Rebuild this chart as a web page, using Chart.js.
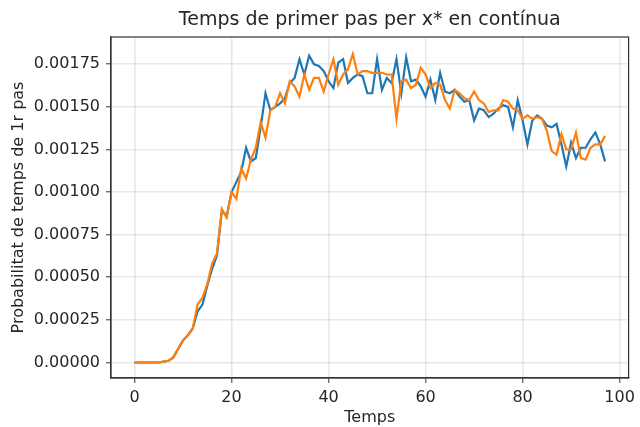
<!DOCTYPE html>
<html>
<head>
<meta charset="utf-8">
<script src="https://cdn.jsdelivr.net/npm/chart.js@4.4.1/dist/chart.umd.min.js"></script>
<style>
  html, body { margin: 0; padding: 0; background: #ffffff; }
  canvas { display: block; }
</style>
</head>
<body>
<canvas id="chart" width="640" height="427"></canvas>
<script>
// Time steps 0..97
const temps = [];
for (let t = 0; t <= 97; t++) temps.push(t);

// First-passage probability, series 1 (blue)
const serieBlava = [
  0, 0, 0, 0, 0, 0, 0.000005, 0.00001, 0.00003, 0.00008,
  0.00013, 0.00016, 0.0002, 0.0003, 0.00034, 0.00045, 0.00055, 0.00063, 0.00089, 0.00086,
  0.001, 0.00106, 0.00112, 0.00126, 0.00118, 0.0012, 0.00138, 0.00158, 0.00148, 0.0015,
  0.00152, 0.00155, 0.00164, 0.00167, 0.00178, 0.00169, 0.0018, 0.00175, 0.00174, 0.00171,
  0.00165, 0.00161, 0.00176, 0.00178, 0.00164, 0.00167, 0.00169, 0.00168, 0.00158, 0.00158,
  0.00178, 0.0016, 0.00167, 0.00164, 0.00178, 0.00158, 0.00179, 0.00165, 0.00166, 0.00162,
  0.00156, 0.00166, 0.00154, 0.0017, 0.00159, 0.00158, 0.0016, 0.00156, 0.00153, 0.00154,
  0.00142, 0.00149, 0.00148, 0.00144, 0.00146, 0.00149, 0.00151, 0.0015, 0.00138, 0.00154,
  0.00142, 0.00128, 0.00142, 0.00145, 0.00143, 0.00139, 0.00138, 0.0014, 0.00128, 0.00115,
  0.00129, 0.0012, 0.00126, 0.00126, 0.00131, 0.00135, 0.00128, 0.00118
];

// First-passage probability, series 2 (orange)
const serieTaronja = [
  0, 0, 0, 0, 0, 0, 0.000005, 0.00001, 0.00003, 0.00008,
  0.00013, 0.00016, 0.0002, 0.00034, 0.00038, 0.00046, 0.00058, 0.00064, 0.0009, 0.00085,
  0.001, 0.00096, 0.00114, 0.00108, 0.00119, 0.00126, 0.00141, 0.00132, 0.00148, 0.0015,
  0.00158, 0.00152, 0.00165, 0.00162, 0.00156, 0.00169, 0.0016, 0.00167, 0.00167, 0.00159,
  0.00169, 0.00178, 0.00163, 0.00169, 0.00172, 0.00181, 0.00169, 0.00171, 0.00171, 0.0017,
  0.0017, 0.0017, 0.00169, 0.00169, 0.00143, 0.00165, 0.00166, 0.00161, 0.00163, 0.00173,
  0.00169, 0.00161, 0.00164, 0.00163, 0.00154, 0.00149, 0.0016, 0.00158, 0.00155, 0.00154,
  0.00159, 0.00154, 0.00152, 0.00147, 0.00148, 0.00148, 0.00154, 0.00153, 0.00149, 0.00148,
  0.00143, 0.00145, 0.00143, 0.00144, 0.00143, 0.00136, 0.00124, 0.00122, 0.00134, 0.00125,
  0.00125, 0.00135, 0.0012, 0.00119, 0.00126, 0.00128, 0.00128, 0.00133
];

// Axis tick positions
const xTicks = [0, 20, 40, 60, 80, 100];
const yTicks = [0, 0.00025, 0.0005, 0.00075, 0.001, 0.00125, 0.0015, 0.00175];

const titol = 'Temps de primer pas per x* en contínua';
const titolX = 'Temps';
const titolY = 'Probabilitat de temps de 1r pas';

const FONT = "'DejaVu Sans', sans-serif";
const INK = '#262626';

// Axes frame on all four sides plus the chart title
const framePlugin = {
  id: 'frame',
  afterDraw(chart) {
    const { ctx, chartArea: a } = chart;
    ctx.save();
    ctx.strokeStyle = '#333333';
    ctx.lineWidth = 1.2;
    ctx.strokeRect(a.left, a.top, a.right - a.left, a.bottom - a.top);
    ctx.fillStyle = INK;
    ctx.font = "19px " + FONT;
    ctx.textAlign = 'center';
    ctx.textBaseline = 'middle';
    ctx.fillText(titol, (a.left + a.right) / 2, 20);
    ctx.restore();
  }
};

const toPoints = (ys) => ys.map((y, i) => ({ x: temps[i], y }));

new Chart(document.getElementById('chart'), {
  type: 'line',
  data: {
    datasets: [
      {
        data: toPoints(serieBlava),
        borderColor: '#1f77b4',
        borderWidth: 2.2,
        pointRadius: 0,
        tension: 0,
        order: 2
      },
      {
        data: toPoints(serieTaronja),
        borderColor: '#ff7f0e',
        borderWidth: 2.2,
        pointRadius: 0,
        tension: 0,
        order: 1
      }
    ]
  },
  options: {
    responsive: false,
    animation: false,
    devicePixelRatio: 1,
    layout: { padding: { top: 37, right: 6, left: 0, bottom: 0 } },
    plugins: {
      legend: { display: false },
      tooltip: { enabled: false },
      title: { display: false }
    },
    scales: {
      x: {
        type: 'linear',
        min: -4.85,
        max: 101.85,
        afterBuildTicks: (s) => { s.ticks = xTicks.map(v => ({ value: v })); },
        afterFit: (s) => { s.height = 49; },
        ticks: {
          color: INK,
          font: { family: FONT, size: 16 },
          padding: 5,
          maxRotation: 0,
          callback: (v) => String(v)
        },
        grid: {
          color: 'rgba(0,0,0,0.09)',
          lineWidth: 1.6,
          tickColor: '#333333',
          tickLength: 5,
          tickWidth: 1
        },
        border: { display: true, color: '#333333', width: 1.2 },
        title: {
          display: true,
          text: titolX,
          color: INK,
          font: { family: FONT, size: 16 },
          padding: { top: 0, bottom: 0 }
        }
      },
      y: {
        type: 'linear',
        min: -0.000091,
        max: 0.00191,
        afterBuildTicks: (s) => { s.ticks = yTicks.map(v => ({ value: v })); },
        afterFit: (s) => { s.width = 111; },
        ticks: {
          color: INK,
          font: { family: FONT, size: 16 },
          padding: 6,
          callback: (v) => Number(v).toFixed(5)
        },
        grid: {
          color: 'rgba(0,0,0,0.09)',
          lineWidth: 1.6,
          tickColor: '#333333',
          tickLength: 5,
          tickWidth: 1
        },
        border: { display: true, color: '#333333', width: 1.2 },
        title: {
          display: true,
          text: titolY,
          color: INK,
          font: { family: FONT, size: 16 },
          padding: { top: 9, bottom: 0 }
        }
      }
    }
  },
  plugins: [framePlugin]
});
</script>
</body>
</html>
